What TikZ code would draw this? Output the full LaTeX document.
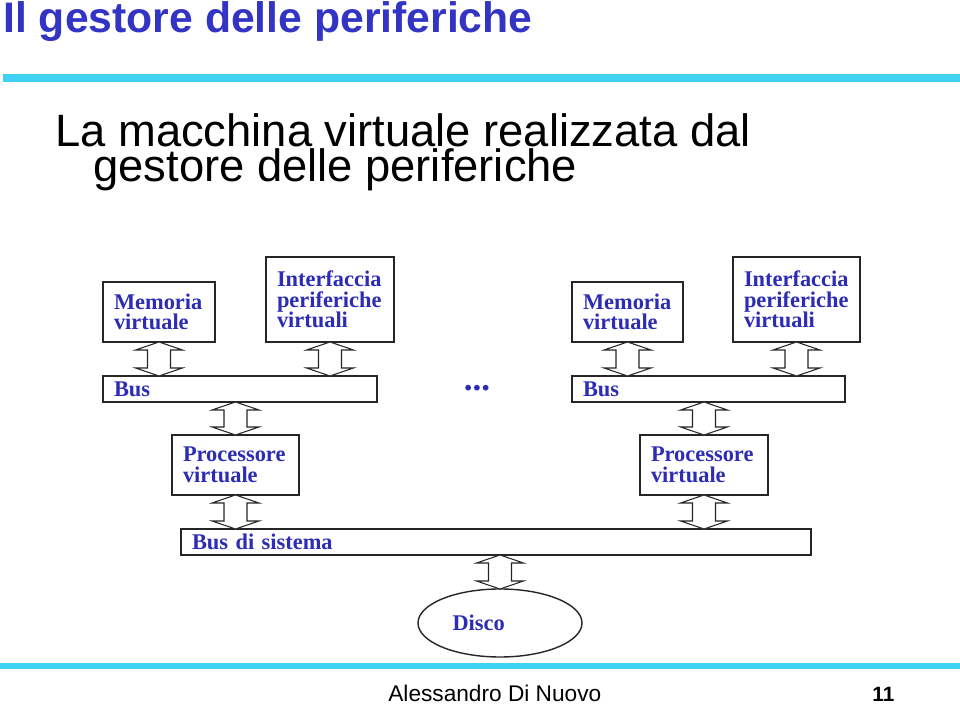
\documentclass[tikz,border=0pt]{standalone}
\usepackage{fontspec}
\setmainfont{Liberation Serif}
\newfontfamily\arialfont{Liberation Sans}
\usetikzlibrary{positioning, shapes.geometric, calc}
\definecolor{gdpblue}{HTML}{3434C4}
\definecolor{gdptext}{HTML}{2C2CB4}
\definecolor{gdpcyan}{HTML}{3ED3F3}

% hollow double arrow between two points on one vertical
\newcommand{\dblarrow}[2]{%
  \draw[biarrow] (#1) -- ++(-0.47,-0.16) -- ++(0.24,0) -- ($(#2)+(-0.23,0.16)$) -- ++(-0.24,0) -- (#2)
    -- ++(0.47,0.16) -- ++(-0.24,0) -- ($(#1)+(0.23,-0.16)$) -- ++(0.24,0) -- cycle;}

\begin{document}
\begin{tikzpicture}[
  box/.style={draw=black!85, line width=0.8pt, fill=white, text=gdptext, font=\fontsize{12.75pt}{11.7pt}\selectfont\bfseries, align=left, inner xsep=0.22cm, inner ysep=0pt, outer sep=0pt},
  bus/.style={box, minimum height=0.52cm},
  biarrow/.style={draw=black!85, line width=0.6pt, fill=white}
]
\useasboundingbox (0,0) rectangle (19.2,14.12);

% Header
\node[anchor=base west, inner sep=0, text=gdpblue, font=\arialfont\bfseries\fontsize{24.3pt}{28pt}\selectfont] (title) at (0.06,13.46) {Il gestore delle periferiche};
\draw[gdpcyan, line width=0.15cm] (0.06,12.56) -- (19.2,12.56);
\node[anchor=north west, inner sep=0, align=left, font=\arialfont\fontsize{25.8pt}{17.6pt}\selectfont] (sub) at (1.1,11.86) {La macchina virtuale realizzata dal\\\hspace*{0.76cm}gestore delle periferiche};

% Left group
\node[box, minimum height=1.2cm, text width=1.8cm, anchor=south west] (mem1) at (2.06,7.28) {Memoria\\virtuale};
\node[box, minimum height=1.7cm, text width=2.12cm, right=1.02cm of mem1.south east, anchor=south west] (int1) {Interfaccia\\periferiche\\virtuali};
\node[bus, text width=5.04cm, below=0.68cm of mem1.south west, anchor=north west] (bus1) {Bus};

% Right group
\node[box, minimum height=1.2cm, text width=1.78cm, right=3.56cm of int1.south east, anchor=south west] (mem2) {Memoria\\virtuale};
\node[box, minimum height=1.7cm, text width=2.1cm, right=1.0cm of mem2.south east, anchor=south west] (int2) {Interfaccia\\periferiche\\virtuali};
\node[bus, text width=5.02cm, below=0.68cm of mem2.south west, anchor=north west] (bus2) {Bus};

\node[inner sep=0, text=gdptext, font=\fontsize{20pt}{20pt}\selectfont\bfseries] (dots) at (9.54,6.36) {...};

% Processors
\node[box, minimum height=1.2cm, text width=2.1cm, below=0.66cm of bus1.south west, anchor=north west, xshift=1.38cm] (proc1) {Processore\\virtuale};
\node[box, minimum height=1.2cm, text width=2.12cm, below=0.66cm of bus2.south west, anchor=north west, xshift=1.36cm] (proc2) {Processore\\virtuale};

% System bus and disk
\node[bus, text width=12.16cm, below=0.68cm of proc1.south west, anchor=north west, xshift=0.18cm] (sysbus) {Bus di sistema};
\node[ellipse, draw=black!85, line width=0.8pt, outer sep=0pt, minimum width=3.28cm, minimum height=1.36cm, inner sep=0, text width=1.9cm, align=left, text=gdptext, font=\fontsize{12.75pt}{11.7pt}\selectfont\bfseries, below=0.68cm of sysbus.south, xshift=0.08cm] (disco) {Disco};

% Arrows
\dblarrow{mem1.south}{mem1.south |- bus1.north}
\dblarrow{int1.south}{int1.south |- bus1.north}
\dblarrow{mem2.south}{mem2.south |- bus2.north}
\dblarrow{int2.south}{int2.south |- bus2.north}
\dblarrow{proc1.north |- bus1.south}{proc1.north}
\dblarrow{proc1.south}{proc1.south |- sysbus.north}
\dblarrow{proc2.north |- bus2.south}{proc2.north}
\dblarrow{proc2.south}{proc2.south |- sysbus.north}
\dblarrow{disco.north |- sysbus.south}{disco.north}

% Footer
\draw[gdpcyan, line width=0.12cm] (0,0.8) -- (19.2,0.8);
\node[anchor=base west, inner sep=0, font=\arialfont\fontsize{12.9pt}{15pt}\selectfont] (author) at (7.76,0.08) {Alessandro Di Nuovo};
\node[anchor=base west, inner sep=0, font=\arialfont\bfseries\fontsize{11.8pt}{14pt}\selectfont] (page) at (17.44,0.08) {11};

\end{tikzpicture}
\end{document}
